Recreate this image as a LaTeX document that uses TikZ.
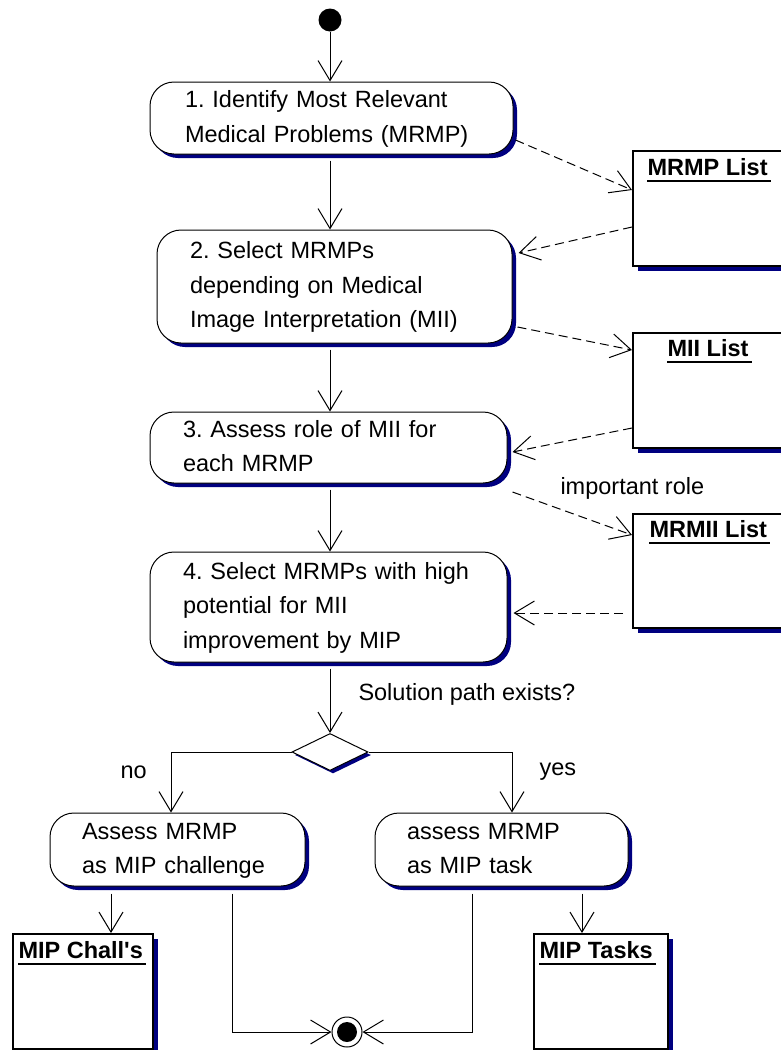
\documentclass[tikz,border=0pt]{standalone}
\usepackage{fontspec}
\setmainfont{Liberation Sans}[Ligatures=TeXOff]
\usetikzlibrary{arrows.meta,shapes.geometric,shadows,calc}
\definecolor{umlnavy}{RGB}{0,0,128}
\newcommand\dfont{\fontsize{23.5}{34.5}\selectfont}
\frenchspacing
\begin{document}
\begin{tikzpicture}[x=1pt, y={(0pt,-1pt)}, line width=1pt,
  >={Straight Barb[length=20pt,width=24pt]},
  font=\dfont,
  act/.style={draw, fill=white, rounded corners=24pt, align=left, inner ysep=0pt,
    drop shadow={shadow xshift=4pt,shadow yshift=-4pt,fill=umlnavy,opacity=1}},
  obj/.style={draw, line width=1.6pt, fill=white, anchor=north west, inner sep=0pt,
    drop shadow={shadow xshift=5pt,shadow yshift=-5pt,fill=umlnavy,opacity=1}},
  objtitle/.style={anchor=base west, inner sep=0pt, font=\dfont\bfseries},
  uline/.style={line width=1.8pt},
  flow/.style={->},
  dep/.style={->, dash pattern=on 9pt off 5pt},
  lbl/.style={anchor=west, inner sep=0pt}]

\useasboundingbox (0,0) rectangle (781,1050);
\clip (0,0) rectangle (781,1050);

% start / end
\node[circle, fill=black, minimum size=23pt, inner sep=0pt] (start) at (330,20) {};
\node[circle, draw, fill=white, minimum size=30pt, inner sep=0pt] (final) at (347,1032) {};
\fill (final.center) circle (10pt);

% activities
\node[act, inner xsep=35pt, text width=293pt, minimum height=72pt] (act1) at (331.5,118)
  {\strut 1. Identify Most Relevant\\Medical Problems (MRMP)\strut};
\node[act, inner xsep=33pt, text width=289pt, minimum height=113pt] (act2) at (334.5,286.5)
  {\strut 2. Select MRMPs\\depending on Medical\\Image Interpretation (MII)\strut};
\node[act, inner xsep=33pt, text width=291pt, minimum height=71pt] (act3) at (328.5,447.5)
  {\strut 3. Assess role of MII for\\each MRMP\strut};
\node[act, inner xsep=33pt, text width=291pt, minimum height=110pt] (act4) at (328.5,607)
  {\strut 4. Select MRMPs with high\\potential for MII\\improvement by MIP\strut};
\node[act, inner xsep=32pt, text width=191pt, minimum height=73pt] (act5) at (177.5,849.5)
  {\strut Assess MRMP\\as MIP challenge\strut};
\node[act, inner xsep=32pt, text width=189pt, minimum height=73pt] (act6) at (501.5,849.5)
  {\strut assess MRMP\\as MIP task\strut};

% decision
\node[diamond, draw, fill=white, minimum width=76pt, minimum height=37pt, inner sep=0pt,
  drop shadow={shadow xshift=3pt,shadow yshift=-3pt,fill=umlnavy,opacity=1}] (dia) at (330,752) {};

% object boxes
\node[obj, minimum width=175pt, minimum height=115pt] (mrmp) at (632,150) {};
\node[obj, minimum width=175pt, minimum height=115pt] (mii) at (632,332) {};
\node[obj, minimum width=175pt, minimum height=114pt] (mrmii) at (632,513) {};
\node[obj, minimum width=140pt, minimum height=115pt] (chall) at (12,933) {};
\node[obj, minimum width=134pt, minimum height=115pt] (tasks) at (533,933) {};

\node[objtitle] (mrmpT) at (647,175.5) {MRMP List};
\node[objtitle] (miiT) at (667,356.5) {MII List};
\node[objtitle] (mrmiiT) at (649,537.5) {MRMII List};
\node[objtitle] (challT) at (18,958.5) {MIP Chall's};
\node[objtitle] (tasksT) at (539,958.5) {MIP Tasks};
\foreach \t in {mrmpT,miiT,mrmiiT,challT,tasksT}
  \draw[uline] ($(\t.base west)+(0,5.5)$) -- ($(\t.base east)+(3,5.5)$);

% control flow
\draw[flow] (start) -- (act1.north -| start);
\draw[flow, shorten <=6pt] (act1.south -| start) -- (act2.north -| start);
\draw[flow, shorten <=6pt] (act2.south -| start) -- (act3.north -| start);
\draw[flow, shorten <=6pt] (act3.south -| start) -- (act4.north -| start);
\draw[flow, shorten <=6pt] (act4.south -| start) -- (dia.north)
  node[lbl, pos=0.45, xshift=28pt] (cond) {Solution path exists?};

\coordinate (in5) at ($(act5.north)+(-6.5,0)$);
\coordinate (in6) at ($(act6.north)+(10.5,0)$);
\draw[flow] (dia.west) -| (in5);
\draw[flow] (dia.east) -| (in6);
\node[lbl] (no) at (120,772) {no};
\node[lbl] (yes) at (539,772) {yes};

\coordinate (c5a) at ($(act5.south)+(-66.5,0)$);
\coordinate (c5b) at ($(act5.south)+(54.5,0)$);
\coordinate (c6a) at ($(act6.south)+(80.5,0)$);
\coordinate (c6b) at ($(act6.south)+(-29.5,0)$);
\draw[flow, shorten <=7pt] (c5a) -- (c5a |- chall.north);
\draw[flow, shorten <=7pt] (c6a) -- (c6a |- tasks.north);
\draw[flow, shorten <=7pt] (c5b) |- (final);
\draw[flow, shorten <=7pt] (c6b) |- (final);

% object flows
\draw[dep] ($(act1.east)+(2,22)$) -- ($(mrmp.north west)+(0,40)$);
\draw[dep] ($(mrmp.north west)+(0,77)$) -- ($(act2.east)+(6,-33.5)$);
\draw[dep] ($(act2.east)+(5,40.5)$) -- ($(mii.north west)+(0,18)$);
\draw[dep] ($(mii.north west)+(0,96)$) -- ($(act3.east)+(5,4.5)$);
\draw[dep] ($(act3.east)+(5,44.5)$) -- ($(mrmii.north west)+(0,22)$);
\node[lbl] (role) at (560,488) {important role};
\draw[dep] ($(mrmii.north west)+(-9,100)$) -- ($(act4.east)+(6,6)$);
\end{tikzpicture}
\end{document}
